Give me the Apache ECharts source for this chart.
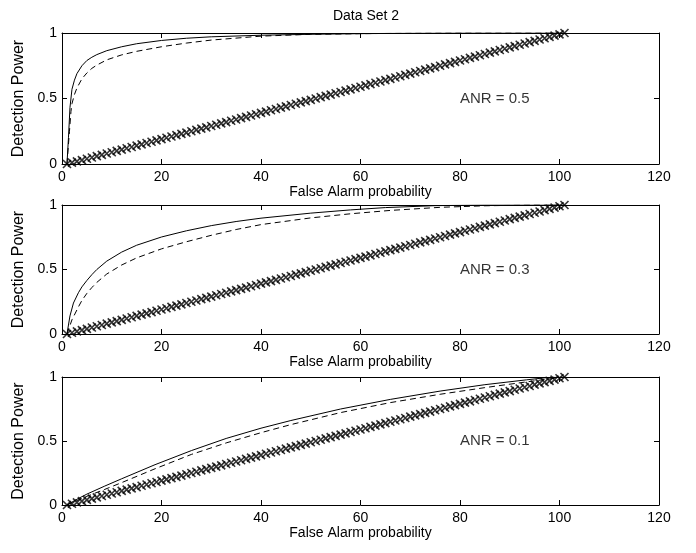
<!DOCTYPE html>
<html lang="en">
<head>
<meta charset="UTF-8" />
<title>Data Set 2</title>
<script src="https://cdn.jsdelivr.net/npm/echarts@6/dist/echarts.min.js"></script>
<style>
  body { margin: 0; background: #fff; }
  #main { width: 696px; height: 553px; }
</style>
</head>
<body>
<div id="main"></div>
<script>
const anrLabels = ['ANR = 0.5', 'ANR = 0.3', 'ANR = 0.1']
const labelPos = [80, 0.5]

// the "x" marker line, same in all three panels
const markerPts = [
  [1,0],[2,0.01],[3,0.02],[4,0.03],[5,0.04],[6,0.05],[7,0.06],[8,0.07],[9,0.08],[10,0.09],
  [11,0.1],[12,0.11],[13,0.12],[14,0.13],[15,0.14],[16,0.15],[17,0.16],[18,0.17],[19,0.18],[20,0.19],
  [21,0.2],[22,0.21],[23,0.22],[24,0.23],[25,0.24],[26,0.25],[27,0.26],[28,0.27],[29,0.28],[30,0.29],
  [31,0.3],[32,0.31],[33,0.32],[34,0.33],[35,0.34],[36,0.35],[37,0.36],[38,0.37],[39,0.38],[40,0.39],
  [41,0.4],[42,0.41],[43,0.42],[44,0.43],[45,0.44],[46,0.45],[47,0.46],[48,0.47],[49,0.48],[50,0.49],
  [51,0.5],[52,0.51],[53,0.52],[54,0.53],[55,0.54],[56,0.55],[57,0.56],[58,0.57],[59,0.58],[60,0.59],
  [61,0.6],[62,0.61],[63,0.62],[64,0.63],[65,0.64],[66,0.65],[67,0.66],[68,0.67],[69,0.68],[70,0.69],
  [71,0.7],[72,0.71],[73,0.72],[74,0.73],[75,0.74],[76,0.75],[77,0.76],[78,0.77],[79,0.78],[80,0.79],
  [81,0.8],[82,0.81],[83,0.82],[84,0.83],[85,0.84],[86,0.85],[87,0.86],[88,0.87],[89,0.88],[90,0.89],
  [91,0.9],[92,0.91],[93,0.92],[94,0.93],[95,0.94],[96,0.95],[97,0.96],[98,0.97],[99,0.98],[100,0.99],
  [101,1]
]

// ANR = 0.5
const solid05 = [[1,0],[1.3,0.2],[1.6,0.43],[2,0.57],[2.5,0.64],[3,0.69],[4,0.75],[5,0.79],[6,0.815],
  [7,0.835],[9,0.865],[12,0.895],[15,0.918],[20,0.943],[25,0.96],[30,0.971],[40,0.983],[50,0.99],
  [60,0.995],[70,0.998],[80,1],[101,1]]
const dashed05 = [[1,0],[1.5,0.25],[1.8,0.4],[2,0.46],[2.5,0.53],[3,0.58],[4,0.65],[5,0.695],[6,0.73],
  [7,0.755],[9,0.795],[12,0.833],[15,0.86],[20,0.895],[25,0.923],[30,0.946],[40,0.976],[50,0.99],
  [60,0.995],[70,0.998],[80,1],[101,1]]

// ANR = 0.3
const solid03 = [[1,0],[1.6,0.14],[2.3,0.24],[3.3,0.32],[4,0.365],[5,0.415],[6,0.46],[7,0.5],[9,0.565],
  [12,0.635],[15,0.688],[20,0.752],[25,0.8],[30,0.84],[35,0.872],[40,0.898],[50,0.937],[58,0.962],
  [65,0.98],[75,0.995],[85,1],[101,1]]
const dashed03 = [[1,0],[2,0.11],[3.3,0.21],[4,0.26],[5,0.315],[6,0.36],[7,0.4],[9,0.465],[12,0.535],
  [15,0.59],[20,0.66],[25,0.715],[30,0.765],[35,0.81],[40,0.848],[50,0.9],[58,0.932],[66,0.958],
  [76,0.982],[85,0.994],[95,1],[101,1]]

// ANR = 0.1
const solid01 = [[1,0],[3,0.045],[5,0.085],[8.6,0.148],[12,0.205],[18.7,0.315],[26,0.425],[33,0.52],
  [40,0.6],[46,0.66],[56,0.75],[66,0.825],[76,0.89],[85,0.94],[93.4,0.978],[97.4,0.995],[101,1]]
const dashed01 = [[1,0],[3,0.035],[5,0.068],[8.6,0.122],[12,0.175],[18.7,0.283],[26,0.395],[33,0.485],
  [40,0.565],[46,0.628],[56,0.722],[66,0.8],[76,0.865],[85,0.917],[93.4,0.962],[101,1]]

const solids = [solid05, solid03, solid01]
const dashes = [dashed05, dashed03, dashed01]

const tops = [33, 205, 377]
const heights = [131, 129, 128]
const font = 'Liberation Sans, Arial, Helvetica, sans-serif'

const chart = echarts.init(document.getElementById('main'))

const grid = []
const xAxis = []
const yAxis = []
const series = []

tops.forEach((top, i) => {
  grid.push({ left: 62, width: 597, top: top, height: heights[i] })
  const line = { show: true, onZero: false, lineStyle: { color: '#000', width: 1 } }
  const tick = { show: true, inside: true, length: 5, lineStyle: { color: '#000' } }
  xAxis.push({
    type: 'value', gridIndex: i, min: 0, max: 120, interval: 20, position: 'bottom',
    axisLine: line, axisTick: tick, splitLine: { show: false },
    axisLabel: { color: '#000', fontSize: 14, fontFamily: font, margin: 6 },
    name: 'False Alarm probability', nameLocation: 'middle', nameGap: 21,
    nameTextStyle: { color: '#000', fontSize: 14, fontFamily: font }
  })
  xAxis.push({
    type: 'value', gridIndex: i, min: 0, max: 120, interval: 20, position: 'top',
    axisLine: line, axisTick: tick, splitLine: { show: false }, axisLabel: { show: false }
  })
  yAxis.push({
    type: 'value', gridIndex: i, min: 0, max: 1, interval: 0.5, position: 'left',
    axisLine: line, axisTick: tick, splitLine: { show: false },
    axisLabel: { color: '#000', fontSize: 14, fontFamily: font, margin: 5 },
    name: 'Detection Power', nameLocation: 'middle', nameGap: 25, nameRotate: 90,
    nameTextStyle: { color: '#000', fontSize: 16, fontFamily: font }
  })
  yAxis.push({
    type: 'value', gridIndex: i, min: 0, max: 1, interval: 0.5, position: 'right',
    axisLine: line, axisTick: tick, splitLine: { show: false }, axisLabel: { show: false }
  })

  const ax = { xAxisIndex: 2 * i, yAxisIndex: 2 * i }
  series.push({
    type: 'line', ...ax, data: solids[i], showSymbol: false,
    lineStyle: { color: '#000', width: 1 }, silent: true
  })
  series.push({
    type: 'line', ...ax, data: dashes[i], showSymbol: false,
    lineStyle: { color: '#000', width: 1, type: [6, 4] }, silent: true
  })
  series.push({
    type: 'scatter', ...ax, data: markerPts, symbol: 'path://M0,0L10,10M10,0L0,10', symbolSize: 8,
    itemStyle: { color: 'none', borderColor: '#000', borderWidth: 1.6 }, silent: true
  })
  series.push({
    type: 'scatter', ...ax, data: [labelPos], symbolSize: 0, silent: true,
    label: { show: true, position: 'right', distance: 0, formatter: anrLabels[i],
      color: '#000', fontSize: 15, fontFamily: font }
  })
})

chart.setOption({
  animation: false,
  backgroundColor: '#fff',
  title: {
    text: 'Data Set 2', left: 361, top: 4, textAlign: 'center',
    textStyle: { color: '#000', fontSize: 14, fontWeight: 'normal', fontFamily: font }
  },
  grid, xAxis, yAxis, series
})
</script>
</body>
</html>
